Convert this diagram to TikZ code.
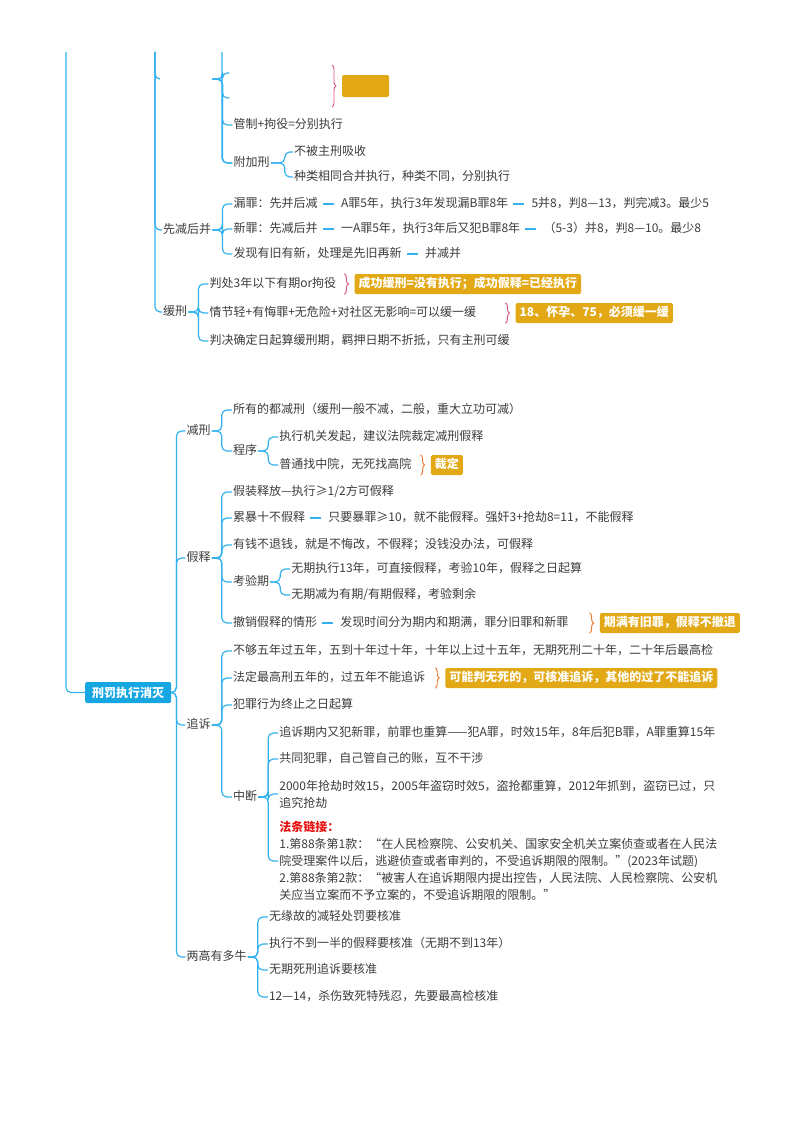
\documentclass[tikz,border=0pt]{standalone}
\usepackage{fontspec}
\setmainfont{Noto Sans CJK SC}
\usepackage{tikz}
\usetikzlibrary{positioning,decorations.pathreplacing}
\definecolor{mLine}{RGB}{52,178,238}
\definecolor{mRoot}{RGB}{22,166,226}
\definecolor{mText}{RGB}{60,60,60}
\definecolor{mGold}{RGB}{226,168,22}
\definecolor{mPink}{RGB}{214,84,122}
\definecolor{mOrange}{RGB}{236,118,44}
\definecolor{mRed}{RGB}{232,16,16}
\tikzset{
  topic/.style={rectangle, rounded corners=2pt, fill=mRoot, text=white,
                font=\fontsize{12}{14}\selectfont\bfseries, inner xsep=7pt,
                minimum height=21pt},
  txt/.style={inner sep=1pt, text=mText, font=\fontsize{12}{14}\selectfont,
              text height=10pt, text depth=2.5pt},
  para/.style={inner sep=1pt, text=mText, font=\fontsize{12}{17}\selectfont,
               align=left},
  blank/.style={inner sep=0pt, minimum height=12pt},
  tag/.style={rectangle, rounded corners=1.5pt, fill=mGold, text=white,
              font=\fontsize{12}{14}\selectfont\bfseries, inner xsep=4pt,
              minimum height=20pt, text height=10pt, text depth=2.5pt},
  br/.style={draw=mLine, line width=1.2pt, rounded corners=5pt},
  link/.style={draw=mLine, line width=1.2pt, shorten <=4pt, shorten >=6pt},
  brc/.style={decorate, decoration={brace, amplitude=4pt}, line width=0.9pt},
}

\begin{document}
\begin{tikzpicture}[x=1pt, y=-1pt]
  \useasboundingbox (0,0) rectangle (800,1132);

  % ---- central topic ----
  \node[topic, anchor=west] (root) at (85,692.5) {刑罚执行消灭};

  % ---- upper part, carried over from the page before ----
  \coordinate (topL) at (66,52);
  \coordinate (topM) at (155,52);
  \coordinate (topR) at (222,52);

  \node[blank, minimum width=52pt, anchor=west] (e1) at (160,79) {};
  \node[txt, anchor=west] (xj) at (162,230) {先减后并};
  \node[txt, anchor=west] (hx) at (162,312) {缓刑};

  \node[blank, right=17pt of e1, yshift=6pt] (e2) {};
  \node[blank, right=17pt of e1, yshift=-19pt] (e3) {};
  \node[txt, right=20pt of e1, yshift=-46pt] (gz) {管制+拘役=分别执行};
  \node[txt, right=20pt of e1, yshift=-84pt] (fj) {附加刑};
  \node[tag, minimum width=47pt, minimum height=22pt, anchor=west] (t0) at (342,86) {};

  \node[txt, right=22pt of fj, yshift=11pt] (fj1) {不被主刑吸收};
  \node[txt, right=22pt of fj, yshift=-14pt] (fj2) {种类相同合并执行，种类不同，分别执行};

  % ---- 先减后并 ----
  \node[txt, right=20pt of xj, yshift=26pt] (lz) {漏罪：先并后减};
  \node[txt, right=21pt of lz] (lzA) {A罪5年，执行3年发现漏B罪8年};
  \node[txt, right=21pt of lzA] (lzB) {5并8，判8—13，判完减3。最少5};
  \node[txt, right=20pt of xj, yshift=1pt] (xz) {新罪：先减后并};
  \node[txt, right=21pt of xz] (xzA) {一A罪5年，执行3年后又犯B罪8年};
  \node[txt, right=21pt of xzA] (xzB) {（5-3）并8，判8—10。最少8};
  \node[txt, right=20pt of xj, yshift=-24pt] (fx) {发现有旧有新，处理是先旧再新};
  \node[txt, right=21pt of fx] (fxA) {并减并};

  % ---- 缓刑 ----
  \node[txt, right=20pt of hx, yshift=28pt] (hx1) {判处3年以下有期or拘役};
  \node[txt, right=20pt of hx, yshift=-1pt] (hx2) {情节轻+有悔罪+无危险+对社区无影响=可以缓一缓};
  \node[txt, right=20pt of hx, yshift=-29pt] (hx3) {判决确定日起算缓刑期，羁押日期不折抵，只有主刑可缓};
  \node[tag, right=17pt of hx1] (t1) {成功缓刑=没有执行；成功假释=已经执行};
  \node[tag, right=38pt of hx2] (t2) {18、怀孕、75，必须缓一缓};

  % ---- main branches ----
  \node[txt, right=14pt of root, yshift=261.5pt] (jx) {减刑};
  \node[txt, right=14pt of root, yshift=134.5pt] (js) {假释};
  \node[txt, right=14pt of root, yshift=-32.5pt] (zs) {追诉};
  \node[txt, right=14pt of root, yshift=-264.5pt] (lg) {两高有多牛};

  % ---- 减刑 ----
  \node[txt, right=20pt of jx, yshift=21pt] (jx1) {所有的都减刑（缓刑一般不减，二般，重大立功可减）};
  \node[txt, right=20pt of jx, yshift=-20pt] (cx) {程序};
  \node[txt, right=20pt of cx, yshift=14pt] (cx1) {执行机关发起，建议法院裁定减刑假释};
  \node[txt, right=20pt of cx, yshift=-14pt] (cx2) {普通找中院，无死找高院};
  \node[tag, right=18pt of cx2] (t3) {裁定};

  % ---- 假释 ----
  \node[txt, right=20pt of js, yshift=66pt] (js1) {假装释放—执行≥1/2方可假释};
  \node[txt, right=20pt of js, yshift=40pt] (lb) {累暴十不假释};
  \node[txt, right=21pt of lb] (lbA) {只要暴罪≥10，就不能假释。强奸3+抢劫8=11，不能假释};
  \node[txt, right=20pt of js, yshift=13pt] (js3) {有钱不退钱，就是不悔改，不假释；没钱没办法，可假释};
  \node[txt, right=20pt of js, yshift=-24pt] (ky) {考验期};
  \node[txt, right=20pt of ky, yshift=13pt] (ky1) {无期执行13年，可直接假释，考验10年，假释之日起算};
  \node[txt, right=20pt of ky, yshift=-13pt] (ky2) {无期减为有期/有期假释，考验剩余};
  \node[txt, right=20pt of js, yshift=-65pt] (cs) {撤销假释的情形};
  \node[txt, right=21pt of cs] (csA) {发现时间分为期内和期满，罪分旧罪和新罪};
  \node[tag, right=30pt of csA] (t4) {期满有旧罪，假释不撤退};

  % ---- 追诉 ----
  \node[txt, right=20pt of zs, yshift=74pt] (zs1) {不够五年过五年，五到十年过十年，十年以上过十五年，无期死刑二十年，二十年后最高检};
  \node[txt, right=20pt of zs, yshift=47pt] (zs2) {法定最高刑五年的，过五年不能追诉};
  \node[tag, right=19pt of zs2] (t5) {可能判无死的，可核准追诉，其他的过了不能追诉};
  \node[txt, right=20pt of zs, yshift=20pt] (zs3) {犯罪行为终止之日起算};
  \node[txt, right=20pt of zs, yshift=-72pt] (zd) {中断};
  \node[txt, right=20pt of zd, yshift=64pt] (zd1) {追诉期内又犯新罪，前罪也重算——犯A罪，时效15年，8年后犯B罪，A罪重算15年};
  \node[txt, right=20pt of zd, yshift=38pt] (zd2) {共同犯罪，自己管自己的账，互不干涉};
  \node[para, right=20pt of zd, yshift=3pt] (zd3)
        {2000年抢劫时效15，2005年盗窃时效5，盗抢都重算，2012年抓到，盗窃已过，只\\追究抢劫};
  \node[para, right=20pt of zd, yshift=-64pt] (zd4)
        {{\color{mRed}\bfseries 法条链接：}\\
         1.第88条第1款：“在人民检察院、公安机关、国家安全机关立案侦查或者在人民法\\
         院受理案件以后，逃避侦查或者审判的，不受追诉期限的限制。”(2023年试题)\\
         2.第88条第2款：“被害人在追诉期限内提出控告，人民法院、人民检察院、公安机\\
         关应当立案而不予立案的，不受追诉期限的限制。”};

  % ---- 两高有多牛 ----
  \node[txt, right=20pt of lg, yshift=40pt] (lg1) {无缘故的减轻处罚要核准};
  \node[txt, right=20pt of lg, yshift=13pt] (lg2) {执行不到一半的假释要核准（无期不到13年）};
  \node[txt, right=20pt of lg, yshift=-13pt] (lg3) {无期死刑追诉要核准};
  \node[txt, right=20pt of lg, yshift=-40pt] (lg4) {12—14，杀伤致死特残忍，先要最高检核准};

  % ===== branches =====
  \draw[br] (root.west) -| (topL);
  \foreach \c in {e1,xj,hx}{ \draw[br] (topM) |- (\c.west); }
  \draw[br] (topR) |- (fj.west);
  \foreach \c in {jx,js,zs,lg}{ \draw[br] (root.east) -- ++(5pt,0) |- (\c.west); }

  \foreach \p/\c in {e1/e2,e1/e3,e1/gz,e1/fj,
                     xj/lz,xj/xz,xj/fx,hx/hx1,hx/hx2,hx/hx3,
                     jx/jx1,jx/cx,cx/cx1,cx/cx2,
                     js/js1,js/lb,js/js3,js/ky,js/cs,ky/ky1,ky/ky2,
                     zs/zs1,zs/zs2,zs/zs3,zs/zd,zd/zd1,zd/zd2,zd/zd3,zd/zd4,
                     lg/lg1,lg/lg2,lg/lg3,lg/lg4}
    { \draw[br] (\p.east) -- ++(10pt,0) |- (\c.west); }
  \foreach \c in {fj1,fj2}{ \draw[br] (fj.east) -- ++(14pt,0) |- (\c.west); }

  % inline links
  \foreach \a/\b in {lz/lzA,lzA/lzB,xz/xzA,xzA/xzB,fx/fxA,lb/lbA,cs/csA}
    { \draw[link] (\a) -- (\b); }

  % ===== summary braces =====
  \draw[brc, draw=mPink] ([xshift=-10pt,yshift=21pt]t0.west) -- ([xshift=-10pt,yshift=-21pt]t0.west);
  \foreach \t/\col in {t1/mPink,t2/mPink,t3/mOrange,t4/mOrange,t5/mOrange}
    { \draw[brc, draw=\col] ([xshift=-10pt]\t.north west) -- ([xshift=-10pt]\t.south west); }

\end{tikzpicture}
\end{document}
